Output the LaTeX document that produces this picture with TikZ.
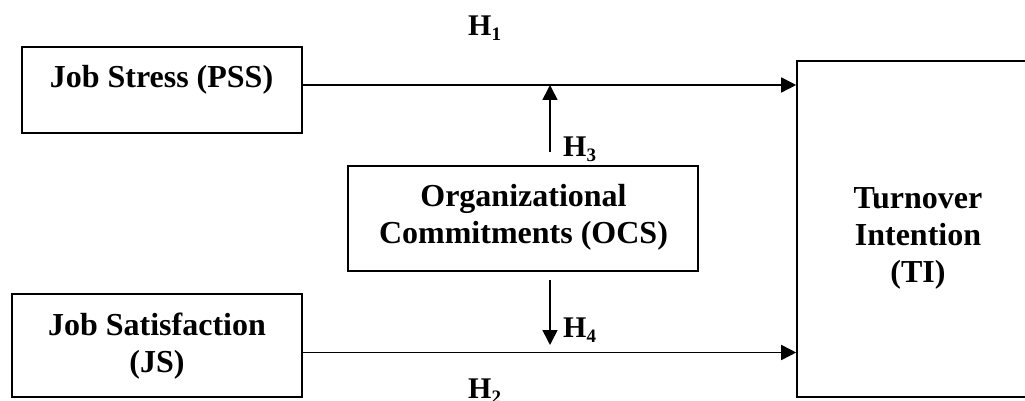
\documentclass[tikz,border=0pt]{standalone}
\usepackage{fontspec}
\setmainfont{Liberation Serif}
\usetikzlibrary{arrows.meta}
% hypothesis label: bold H with a lowered bold digit
\newcommand{\hyp}[1]{H\raisebox{-5pt}{\fontsize{19}{19}\selectfont #1}}

\begin{document}
\begin{tikzpicture}[x=1pt,y=-1pt,
  box/.style={draw, line width=1.6pt, rectangle, inner sep=0pt},
  lbl/.style={font=\fontsize{32}{37}\selectfont\bfseries, align=center, inner sep=0pt, anchor=base},
  hlabel/.style={font=\fontsize{30}{30}\selectfont\bfseries, inner sep=0pt, anchor=base west},
  link/.style={line width=1.6pt, -{Triangle[length=15pt,width=15pt]}}]
\useasboundingbox (0,0) rectangle (1025,401);

% construct boxes
\node[box, minimum width=280pt, minimum height=86pt]  (pss) at (162,90)    {};
\node[box, minimum width=290pt, minimum height=103pt] (js)  at (157,345.5) {};
\node[box, minimum width=350pt, minimum height=105pt] (ocs) at (523,218.5) {};
\node[box, minimum width=233pt, minimum height=336pt] (ti)  at (913.5,229) {};

% box texts (anchored at the baseline of their last line)
\node[lbl] (pssT) at (161.5,88) {Job Stress (PSS)};
\node[lbl] (jsT)  at (157,372)  {Job Satisfaction\\(JS)};
\node[lbl] (ocsT) at (523.5,243) {Organizational\\Commitments (OCS)};
\node[lbl] (tiT)  at (918,282)  {Turnover\\Intention\\(TI)};

% direct effects
\draw[link] ([yshift=5pt]pss.east) coordinate (a) -- (a -| ti.west);
\draw[link] ([yshift=-7pt]js.east) coordinate (b) -- (b -| ti.west);

% moderating effects
\coordinate (m3) at (550,152);
\draw[link] (m3) -- (m3 |- a);
\coordinate (m4s) at (550,280);
\coordinate (m4e) at (550,345);
\draw[link] (m4s) -- (m4e);

% hypothesis labels
\node[hlabel] (h1) at (468,36)  {\hyp{1}};
\node[hlabel] (h2) at (468,398) {\hyp{2}};
\node[hlabel] (h3) at (563,157) {\hyp{3}};
\node[hlabel] (h4) at (563,337) {\hyp{4}};
\end{tikzpicture}
\end{document}
